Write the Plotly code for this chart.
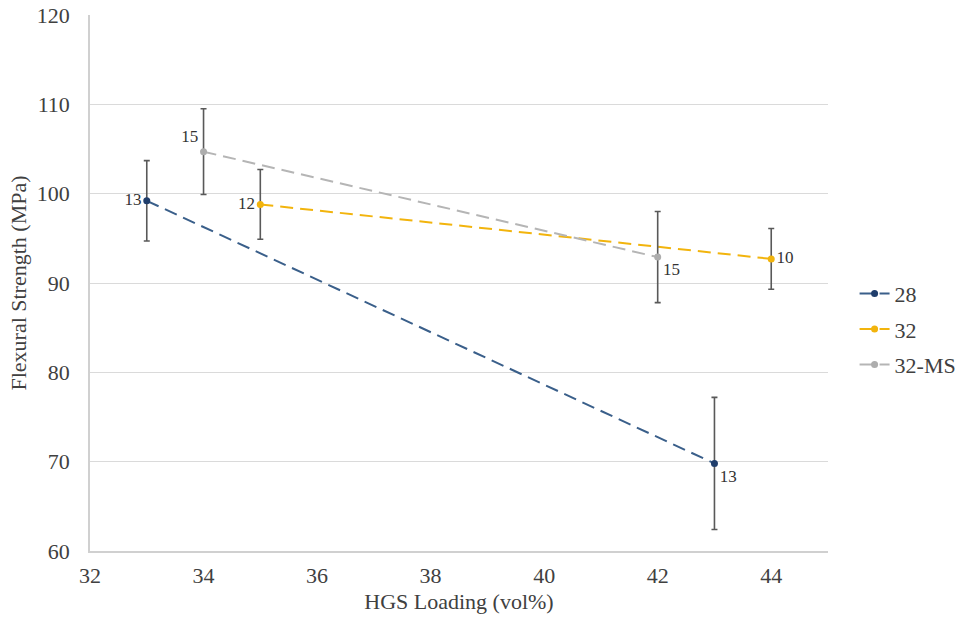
import plotly.graph_objects as go

# Data
series_names = ["28", "32", "32-MS"]
x_28 = [33, 43]
y_28 = [99.2, 69.8]
err_28 = [4.5, 7.4]
n_28 = ["13", "13"]

x_32 = [35, 44]
y_32 = [98.8, 92.7]
err_32 = [3.9, 3.4]
n_32 = ["12", "10"]

x_32ms = [34, 42]
y_32ms = [104.7, 92.9]
err_32ms = [4.8, 5.1]
n_32ms = ["15", "15"]

colors = {"28": "#1F3D6B", "32": "#F2B40D", "32-MS": "#ADADAD"}
line_colors = {"28": "#3A5F8A", "32": "#F2B40D", "32-MS": "#B5B5B5"}
textpos = {"28": ["middle left", "bottom right"],
           "32": ["middle left", "middle right"],
           "32-MS": ["top left", "bottom right"]}

FONT = "Liberation Serif"

fig = go.Figure()
for i, (name, xs, ys, es, ns) in enumerate([("28", x_28, y_28, err_28, n_28),
                                            ("32", x_32, y_32, err_32, n_32),
                                            ("32-MS", x_32ms, y_32ms, err_32ms, n_32ms)]):
    fig.add_trace(go.Scatter(
        x=xs, y=ys, name=name, mode="lines+markers+text",
        text=ns, textposition=textpos[name],
        textfont=dict(family=FONT, size=17, color="#333333"),
        line=dict(color=line_colors[name], width=2, dash="13px,7px"),
        marker=dict(color=colors[name], size=7),
        error_y=dict(type="data", array=es, visible=True, color="#595959",
                     thickness=1.6, width=3),
        cliponaxis=False,
        legendgroup="g%d" % i,
    ))

fig.update_layout(
    width=963, height=624,
    margin=dict(l=90, r=135, t=15, b=73, autoexpand=False),
    paper_bgcolor="white", plot_bgcolor="white",
    font=dict(family=FONT, size=22, color="#404040"),
    showlegend=True,
    legend=dict(x=1.036, y=0.414, xanchor="left", yanchor="middle",
                font=dict(family=FONT, size=22, color="#404040"),
                itemwidth=30, traceorder="grouped", tracegroupgap=4,
                bgcolor="rgba(0,0,0,0)"),
    xaxis=dict(range=[32, 45], tick0=32, dtick=2, showgrid=False,
               showline=True, linecolor="#D0D0D0", linewidth=1.5,
               ticks="", zeroline=False, automargin=False,
               ticklabelstandoff=4,
               title=dict(text="HGS Loading (vol%)", font=dict(family=FONT, size=22, color="#404040"),
                          standoff=6),
               tickfont=dict(family=FONT, size=22, color="#404040")),
    yaxis=dict(range=[60, 120], tick0=60, dtick=10, showgrid=True,
               gridcolor="#DADADA", gridwidth=1.2,
               showline=True, linecolor="#D0D0D0", linewidth=1.5,
               ticks="", zeroline=False, automargin=False,
               ticklabelstandoff=14,
               title=dict(text="Flexural Strength (MPa)", font=dict(family=FONT, size=22, color="#404040"),
                          standoff=4),
               tickfont=dict(family=FONT, size=22, color="#404040")),
)

fig.write_html("out.html")
